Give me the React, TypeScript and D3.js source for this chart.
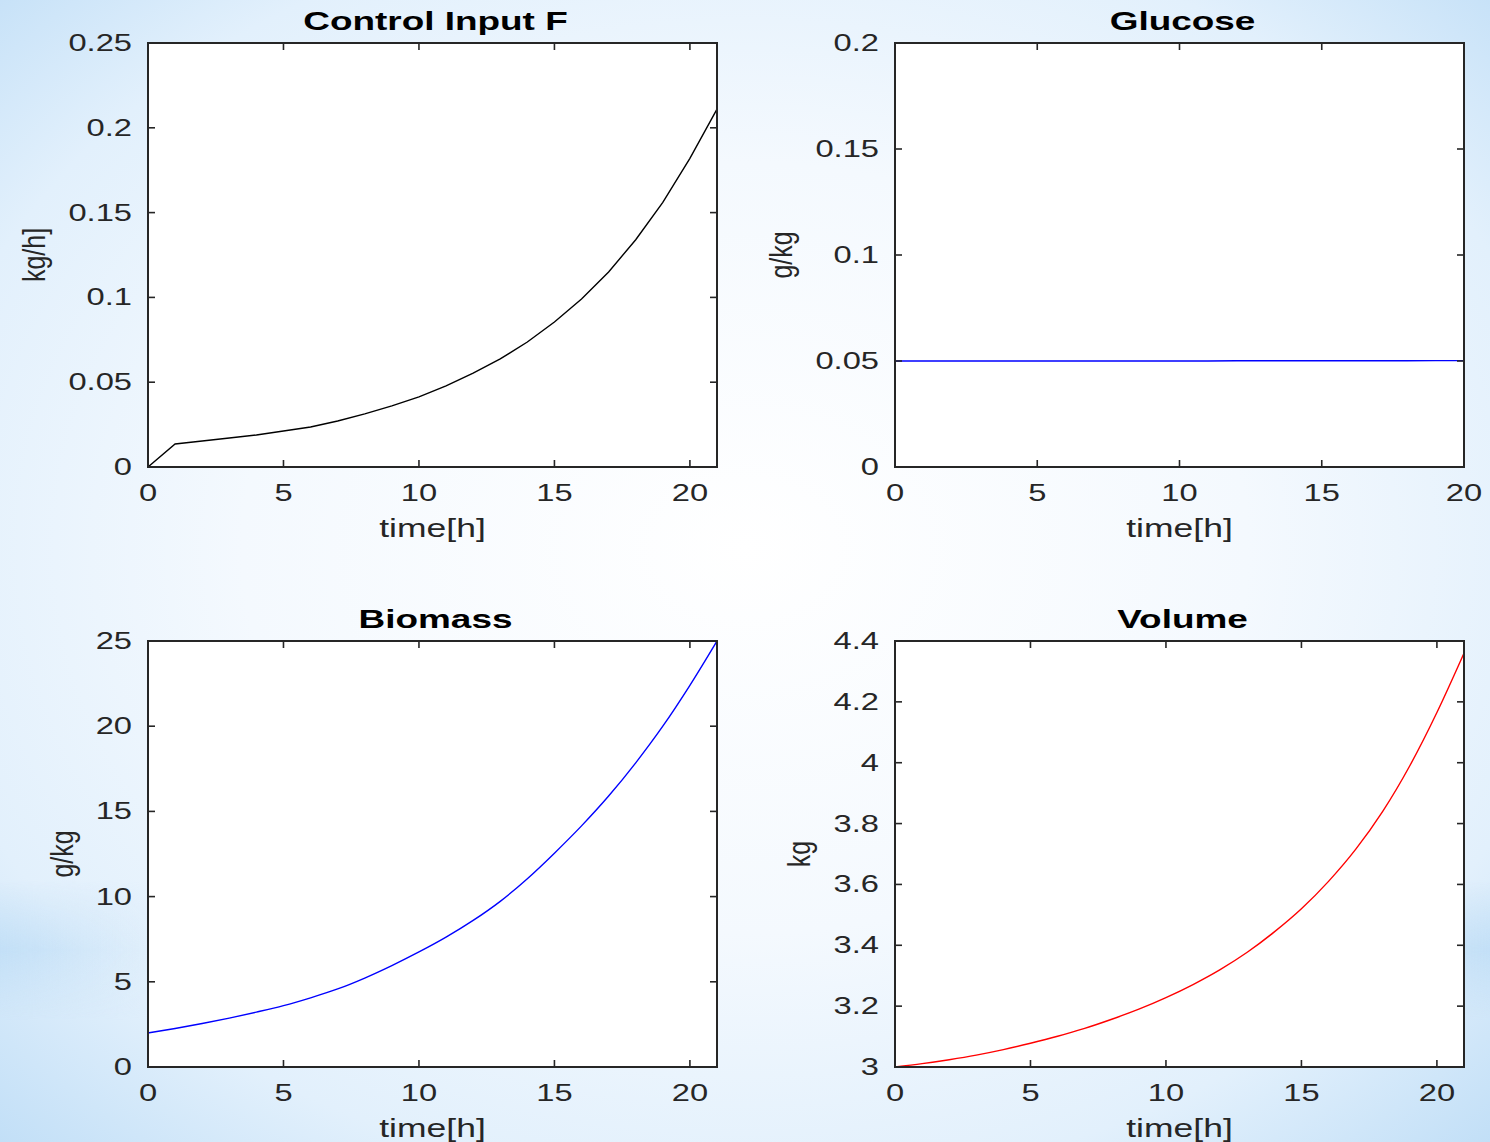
import React from "react";
import * as d3 from "d3";

// ---------- data ----------
const tHours21 = [0,1,2,3,4,5,6,7,8,9,10,11,12,13,14,15,16,17,18,19,20,21];
const tHours20 = [0,1,2,3,4,5,6,7,8,9,10,11,12,13,14,15,16,17,18,19,20];

const feedF = [0, 0.0136, 0.0153, 0.0171, 0.0189, 0.0212, 0.0236, 0.0271, 0.0313, 0.036, 0.0413,
  0.0478, 0.0554, 0.0637, 0.0737, 0.0855, 0.099, 0.115, 0.134, 0.156, 0.182, 0.211];

const glucose = [0.05, 0.05, 0.05, 0.05, 0.05, 0.05, 0.05, 0.05, 0.05, 0.05, 0.05,
  0.05, 0.0501, 0.0501, 0.0501, 0.0501, 0.0501, 0.0501, 0.0501, 0.0502, 0.0502];

const biomass = [2.0, 2.26, 2.55, 2.87, 3.22, 3.6, 4.06, 4.58, 5.22, 5.95, 6.75, 7.62, 8.6, 9.72,
  11.05, 12.55, 14.15, 15.9, 17.85, 20.0, 22.4, 25.0];

const volume = [3.0, 3.011, 3.024, 3.039, 3.057, 3.078, 3.101, 3.127, 3.157, 3.19, 3.228, 3.271,
  3.32, 3.377, 3.444, 3.52, 3.61, 3.715, 3.84, 3.99, 4.165, 4.36];

const xTicks21 = [0, 5, 10, 15, 20];
const xTicks20 = [0, 5, 10, 15, 20];
const yTicksF = [0, 0.05, 0.1, 0.15, 0.2, 0.25];
const yTicksG = [0, 0.05, 0.1, 0.15, 0.2];
const yTicksB = [0, 5, 10, 15, 20, 25];
const yTicksV = [3, 3.2, 3.4, 3.6, 3.8, 4, 4.2, 4.4];

const titles = ["Control Input F", "Glucose", "Biomass", "Volume"];
const yLabels = ["kg/h]", "g/kg", "g/kg", "kg"];
const xLabel = "time[h]";

// ---------- layout ----------
const W = 1490, H = 1142;
const FONT = "'Liberation Sans', Arial, Helvetica, sans-serif";
const SX = 1.42;
const AX = "#262626";

type PanelDef = {
  left: number; right: number; top: number; bottom: number;
  xDomain: [number, number]; yDomain: [number, number];
  xs: number[]; ys: number[]; xTicks: number[]; yTicks: number[];
  color: string; title: string; yLabel: string; yLabelX: number; smooth: boolean;
};

const panels: PanelDef[] = [
  { left: 148, right: 717, top: 43, bottom: 467, xDomain: [0, 21], yDomain: [0, 0.25],
    xs: tHours21, ys: feedF, xTicks: xTicks21, yTicks: yTicksF, color: "#000000",
    title: titles[0], yLabel: yLabels[0], yLabelX: 45, smooth: false },
  { left: 895, right: 1464, top: 43, bottom: 467, xDomain: [0, 20], yDomain: [0, 0.2],
    xs: tHours20, ys: glucose, xTicks: xTicks20, yTicks: yTicksG, color: "#0000ff",
    title: titles[1], yLabel: yLabels[1], yLabelX: 792, smooth: false },
  { left: 148, right: 717, top: 641, bottom: 1067, xDomain: [0, 21], yDomain: [0, 25],
    xs: tHours21, ys: biomass, xTicks: xTicks21, yTicks: yTicksB, color: "#0000ff",
    title: titles[2], yLabel: yLabels[2], yLabelX: 73, smooth: true },
  { left: 895, right: 1464, top: 641, bottom: 1067, xDomain: [0, 21], yDomain: [3, 4.4],
    xs: tHours21, ys: volume, xTicks: xTicks21, yTicks: yTicksV, color: "#ff0000",
    title: titles[3], yLabel: yLabels[3], yLabelX: 810, smooth: true },
];

const fmt = (v: number) => String(+v.toFixed(3));

function SText(props: { x: number; y: number; anchor?: string; size: number; weight?: string;
  fill?: string; rotate?: number; sx?: number; children: React.ReactNode }) {
  const { x, y, anchor = "middle", size, weight = "normal", fill = AX, rotate = 0, sx = SX } = props;
  const tr = `translate(${x},${y}) scale(${sx},1)` + (rotate ? ` rotate(${rotate})` : "");
  return (
    <text transform={tr} textAnchor={anchor} fontSize={size} fontWeight={weight}
      fill={fill} fontFamily={FONT}>{props.children}</text>
  );
}

function Panel({ p }: { p: PanelDef }) {
  const x = d3.scaleLinear().domain(p.xDomain).range([p.left, p.right]);
  const y = d3.scaleLinear().domain(p.yDomain).range([p.bottom, p.top]);
  const pts: [number, number][] = p.xs.map((t, i) => [t, p.ys[i]]);
  const line = d3.line<[number, number]>().x(d => x(d[0])).y(d => y(d[1]))
    .curve(p.smooth ? d3.curveMonotoneX : d3.curveLinear);
  const tl = 7;
  const cx = (p.left + p.right) / 2;
  const cy = (p.top + p.bottom) / 2;
  return (
    <g>
      <rect x={p.left} y={p.top} width={p.right - p.left} height={p.bottom - p.top} fill="#ffffff" />
      <path d={line(pts) || ""} fill="none" stroke={p.color} strokeWidth={1.4} />
      {p.xTicks.map(t => (
        <g key={"xt" + t}>
          <line x1={x(t)} x2={x(t)} y1={p.bottom} y2={p.bottom - tl} stroke={AX} strokeWidth={1.6} />
          <line x1={x(t)} x2={x(t)} y1={p.top} y2={p.top + tl} stroke={AX} strokeWidth={1.6} />
          <SText x={x(t)} y={p.bottom + 34} size={23}>{fmt(t)}</SText>
        </g>
      ))}
      {p.yTicks.map(v => (
        <g key={"yt" + v}>
          <line x1={p.left} x2={p.left + tl} y1={y(v)} y2={y(v)} stroke={AX} strokeWidth={1.6} />
          <line x1={p.right} x2={p.right - tl} y1={y(v)} y2={y(v)} stroke={AX} strokeWidth={1.6} />
          <SText x={p.left - 16} y={y(v) + 8} size={23} anchor="end">{fmt(v)}</SText>
        </g>
      ))}
      <rect x={p.left} y={p.top} width={p.right - p.left} height={p.bottom - p.top}
        fill="none" stroke={AX} strokeWidth={2} />
      <SText x={cx + 3} y={p.top - 13} size={26} weight="bold" fill="#000000">{p.title}</SText>
      <SText x={cx} y={p.bottom + 70} size={25}>{xLabel}</SText>
      <SText x={p.yLabelX} y={cy} size={25} rotate={-90} sx={1.25}>{p.yLabel}</SText>
    </g>
  );
}

export default function App() {
  return (
    <svg width={W} height={H} style={{ position: "absolute", left: 0, top: 0, display: "block" }}
      xmlns="http://www.w3.org/2000/svg">
      <defs>
        <radialGradient id="bg" cx="50%" cy="48%" r="75%" fx="50%" fy="48%">
          <stop offset="0%" stopColor="#ffffff" />
          <stop offset="45%" stopColor="#f4f9fe" />
          <stop offset="75%" stopColor="#e2f0fc" />
          <stop offset="100%" stopColor="#bcdcf6" />
        </radialGradient>
        <linearGradient id="bandL" x1="0" x2="1" y1="0" y2="0">
          <stop offset="0%" stopColor="#c0def6" stopOpacity={0.9} />
          <stop offset="100%" stopColor="#c0def6" stopOpacity={0} />
        </linearGradient>
        <linearGradient id="bandR" x1="1" x2="0" y1="0" y2="0">
          <stop offset="0%" stopColor="#c0def6" stopOpacity={0.9} />
          <stop offset="100%" stopColor="#c0def6" stopOpacity={0} />
        </linearGradient>
        <linearGradient id="bandV" x1="0" x2="0" y1="0" y2="1">
          <stop offset="0%" stopColor="#fff" stopOpacity={0} />
          <stop offset="50%" stopColor="#fff" stopOpacity={1} />
          <stop offset="100%" stopColor="#fff" stopOpacity={0} />
        </linearGradient>
        <mask id="bandMask">
          <rect x={0} y={880} width={W} height={140} fill="url(#bandV)" />
        </mask>
      </defs>
      <rect x={0} y={0} width={W} height={H} fill="url(#bg)" />
      <g mask="url(#bandMask)">
        <rect x={0} y={880} width={170} height={140} fill="url(#bandL)" />
        <rect x={W - 170} y={880} width={170} height={140} fill="url(#bandR)" />
      </g>
      {panels.map((p, i) => <Panel key={i} p={p} />)}
    </svg>
  );
}
